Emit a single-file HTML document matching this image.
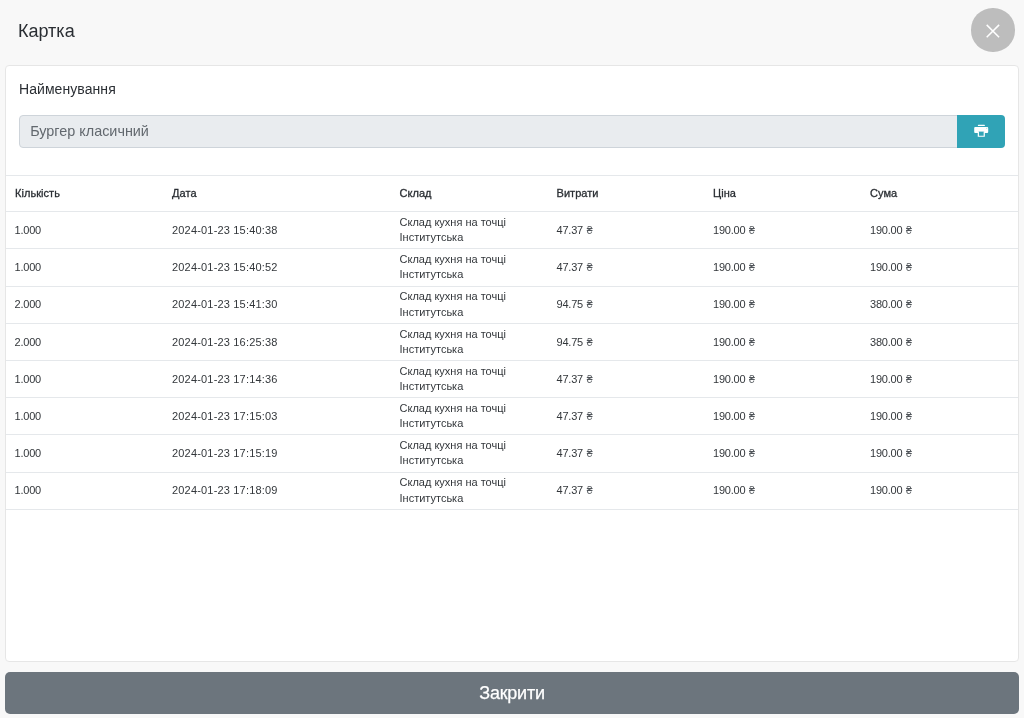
<!DOCTYPE html>
<html><head><meta charset="utf-8">
<style>
*{box-sizing:border-box;margin:0;padding:0}
html,body{width:1024px;height:718px;overflow:hidden;background:#f8f8f8;font-family:"Liberation Sans",sans-serif;color:#2a2e33}
#wrap{position:absolute;left:0;top:0;width:1024px;height:718px;will-change:transform}
.abs{position:absolute;white-space:nowrap}
#title{left:18px;top:21px;font-size:18px;line-height:20px;color:#2a2e33}
#close{left:971.35px;top:8.45px;width:43.2px;height:43.2px;border-radius:50%;background:#bdbdbd}
#card{left:5px;top:65px;width:1014px;height:597px;background:#fff;border:1px solid #e6e6e6;border-radius:4px}
#label{left:19px;top:81.1px;font-size:14px;line-height:16px;color:#2a2e33;letter-spacing:0.07px}
#input{left:19px;top:115px;width:939px;height:33px;background:#e9ecef;border:1px solid #ced4da;border-radius:4px 0 0 4px}
#inputtxt{left:30.2px;top:123.4px;font-size:14.4px;line-height:16px;color:#62686e;letter-spacing:0px}
#print{left:957px;top:115px;width:48px;height:33px;background:#30a3b6;border-radius:0 4px 4px 0}
.ln{position:absolute;left:6px;width:1012px;height:1px;background:#e5e8eb}
.t{position:absolute;white-space:nowrap;font-size:11px;line-height:16px;color:#33373b}
.h{color:#2a2e33;-webkit-text-stroke:0.3px #2a2e33;letter-spacing:0.05px}
.d{letter-spacing:0.18px}
.a{letter-spacing:-0.2px}
.q{letter-spacing:-0.2px}
.uah{font-size:10.5px;color:#50555a;margin-left:0.8px}
#btn{left:5px;top:672px;width:1014px;height:41.5px;background:#6c757d;border-radius:5px;color:#fff;font-size:18px;line-height:43px;text-align:center;letter-spacing:-0.25px;-webkit-text-stroke:0.25px #fff}
</style></head><body><div id="wrap">
<div id="title" class="abs">Картка</div>
<div id="close" class="abs"></div><svg class="abs" style="left:0;top:0" width="1024" height="60"><path d="M986.7 24.9 L999.1 37.3 M999.1 24.9 L986.7 37.3" stroke="#fff" stroke-width="1.5"/></svg>
<div id="card" class="abs"></div>
<div id="label" class="abs">Найменування</div>
<div id="input" class="abs"></div>
<div id="inputtxt" class="abs">Бургер класичний</div>
<div id="print" class="abs"><svg width="48" height="33" viewBox="0 0 48 33"><rect x="20.85" y="9.7" width="7" height="1.35" rx="0.5" fill="#fff"/><rect x="17.2" y="12" width="14" height="5.9" rx="1" fill="#fff"/><path d="M21.35 16.6 V21.25 H27.25 V16.6" fill="#30a3b6" stroke="#fff" stroke-width="1.2"/><circle cx="29.8" cy="13.2" r="0.42" fill="#30a3b6"/></svg></div>
<div class="ln" style="top:175px"></div>
<div class="ln" style="top:211.20px"></div>
<div class="ln" style="top:248.40px"></div>
<div class="ln" style="top:285.60px"></div>
<div class="ln" style="top:322.80px"></div>
<div class="ln" style="top:360.00px"></div>
<div class="ln" style="top:397.20px"></div>
<div class="ln" style="top:434.40px"></div>
<div class="ln" style="top:471.60px"></div>
<div class="ln" style="top:508.80px"></div>
<div class="t h" style="left:15px;top:185.39px;">Кількість</div>
<div class="t h" style="left:172px;top:185.39px;">Дата</div>
<div class="t h" style="left:399.5px;top:185.39px;">Склад</div>
<div class="t h" style="left:556.5px;top:185.39px;">Витрати</div>
<div class="t h" style="left:713px;top:185.39px;">Ціна</div>
<div class="t h" style="left:870px;top:185.39px;">Сума</div>
<div class="t c q" style="left:14.5px;top:221.99px;">1.000</div>
<div class="t c d" style="left:172px;top:221.99px;">2024-01-23 15:40:38</div>
<div class="t c" style="left:399.5px;top:213.99px;">Склад кухня на точці</div>
<div class="t c" style="left:399.5px;top:229.29px;">Інститутська</div>
<div class="t c a" style="left:556.5px;top:221.99px;">47.37 <span class="uah">₴</span></div>
<div class="t c a" style="left:713px;top:221.99px;">190.00 <span class="uah">₴</span></div>
<div class="t c a" style="left:870px;top:221.99px;">190.00 <span class="uah">₴</span></div>
<div class="t c q" style="left:14.5px;top:259.19px;">1.000</div>
<div class="t c d" style="left:172px;top:259.19px;">2024-01-23 15:40:52</div>
<div class="t c" style="left:399.5px;top:251.19px;">Склад кухня на точці</div>
<div class="t c" style="left:399.5px;top:266.49px;">Інститутська</div>
<div class="t c a" style="left:556.5px;top:259.19px;">47.37 <span class="uah">₴</span></div>
<div class="t c a" style="left:713px;top:259.19px;">190.00 <span class="uah">₴</span></div>
<div class="t c a" style="left:870px;top:259.19px;">190.00 <span class="uah">₴</span></div>
<div class="t c q" style="left:14.5px;top:296.39px;">2.000</div>
<div class="t c d" style="left:172px;top:296.39px;">2024-01-23 15:41:30</div>
<div class="t c" style="left:399.5px;top:288.39px;">Склад кухня на точці</div>
<div class="t c" style="left:399.5px;top:303.69px;">Інститутська</div>
<div class="t c a" style="left:556.5px;top:296.39px;">94.75 <span class="uah">₴</span></div>
<div class="t c a" style="left:713px;top:296.39px;">190.00 <span class="uah">₴</span></div>
<div class="t c a" style="left:870px;top:296.39px;">380.00 <span class="uah">₴</span></div>
<div class="t c q" style="left:14.5px;top:333.59px;">2.000</div>
<div class="t c d" style="left:172px;top:333.59px;">2024-01-23 16:25:38</div>
<div class="t c" style="left:399.5px;top:325.59px;">Склад кухня на точці</div>
<div class="t c" style="left:399.5px;top:340.89px;">Інститутська</div>
<div class="t c a" style="left:556.5px;top:333.59px;">94.75 <span class="uah">₴</span></div>
<div class="t c a" style="left:713px;top:333.59px;">190.00 <span class="uah">₴</span></div>
<div class="t c a" style="left:870px;top:333.59px;">380.00 <span class="uah">₴</span></div>
<div class="t c q" style="left:14.5px;top:370.79px;">1.000</div>
<div class="t c d" style="left:172px;top:370.79px;">2024-01-23 17:14:36</div>
<div class="t c" style="left:399.5px;top:362.79px;">Склад кухня на точці</div>
<div class="t c" style="left:399.5px;top:378.09px;">Інститутська</div>
<div class="t c a" style="left:556.5px;top:370.79px;">47.37 <span class="uah">₴</span></div>
<div class="t c a" style="left:713px;top:370.79px;">190.00 <span class="uah">₴</span></div>
<div class="t c a" style="left:870px;top:370.79px;">190.00 <span class="uah">₴</span></div>
<div class="t c q" style="left:14.5px;top:407.99px;">1.000</div>
<div class="t c d" style="left:172px;top:407.99px;">2024-01-23 17:15:03</div>
<div class="t c" style="left:399.5px;top:399.99px;">Склад кухня на точці</div>
<div class="t c" style="left:399.5px;top:415.29px;">Інститутська</div>
<div class="t c a" style="left:556.5px;top:407.99px;">47.37 <span class="uah">₴</span></div>
<div class="t c a" style="left:713px;top:407.99px;">190.00 <span class="uah">₴</span></div>
<div class="t c a" style="left:870px;top:407.99px;">190.00 <span class="uah">₴</span></div>
<div class="t c q" style="left:14.5px;top:445.19px;">1.000</div>
<div class="t c d" style="left:172px;top:445.19px;">2024-01-23 17:15:19</div>
<div class="t c" style="left:399.5px;top:437.19px;">Склад кухня на точці</div>
<div class="t c" style="left:399.5px;top:452.49px;">Інститутська</div>
<div class="t c a" style="left:556.5px;top:445.19px;">47.37 <span class="uah">₴</span></div>
<div class="t c a" style="left:713px;top:445.19px;">190.00 <span class="uah">₴</span></div>
<div class="t c a" style="left:870px;top:445.19px;">190.00 <span class="uah">₴</span></div>
<div class="t c q" style="left:14.5px;top:482.39px;">1.000</div>
<div class="t c d" style="left:172px;top:482.39px;">2024-01-23 17:18:09</div>
<div class="t c" style="left:399.5px;top:474.39px;">Склад кухня на точці</div>
<div class="t c" style="left:399.5px;top:489.69px;">Інститутська</div>
<div class="t c a" style="left:556.5px;top:482.39px;">47.37 <span class="uah">₴</span></div>
<div class="t c a" style="left:713px;top:482.39px;">190.00 <span class="uah">₴</span></div>
<div class="t c a" style="left:870px;top:482.39px;">190.00 <span class="uah">₴</span></div>
<div id="btn" class="abs">Закрити</div>
</div></body></html>
